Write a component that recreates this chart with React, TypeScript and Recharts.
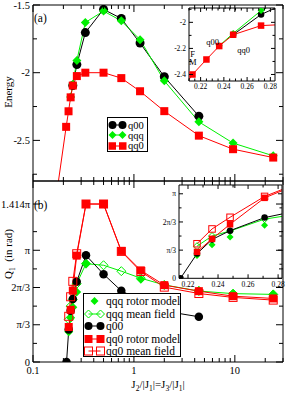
import React from 'react'
import { LineChart, Line, XAxis, YAxis } from 'recharts'

const FONT = '"Liberation Serif", "DejaVu Serif", serif'
const RED = '#ff0000'
const GREEN = '#00f000'
const BLACK = '#000000'

// ---- panel (a): energy ----
const xQQ0a = [0.15, 0.213, 0.225, 0.236, 0.248, 0.272, 0.33, 0.5, 0.75, 1.15, 2, 4.4, 9.6, 24]
const eQQ0 = [-3.2, -2.4, -2.285, -2.182, -2.095, -2.025, -2.0, -2.0, -2.04, -2.137, -2.284, -2.465, -2.565, -2.627]
const xQ00a = [0.248, 0.272, 0.33, 0.5, 0.75, 1.15, 2, 4.4]
const eQ00 = [-2.095, -1.94, -1.704, -1.532, -1.6, -1.781, -2.03, -2.321]
const xQQQa = [0.236, 0.248, 0.272, 0.33, 0.5, 0.75, 1.15, 2, 4.4, 9.6, 24]
const eQQQ = [-2.18, -2.085, -1.91, -1.629, -1.545, -1.617, -1.756, -2.06, -2.363, -2.52, -2.614]

// ---- panel (b): Q1 in units of pi ----
const xQ00b = [0.215, 0.226, 0.236, 0.248, 0.271, 0.335, 0.5, 0.75, 1.17, 2, 4.4]
const qQ00 = [0, 0.292, 0.459, 0.564, 0.718, 0.955, 0.786, 0.637, 0.55, 0.456, 0.405]
const xQQ0b = [0.226, 0.236, 0.248, 0.271, 0.335, 0.5, 0.75, 1.17, 2, 4.4, 9.6, 24]
const qQQ0rotor = [0.313, 0.467, 0.639, 0.952, 1.414, 1.414, 0.994, 0.82, 0.688, 0.634, 0.589, 0.569]
const qQQ0mean = [0.409, 0.584, 0.722, 0.969, 1.414, 1.414, 0.99, 0.81, 0.67, 0.613, 0.578, 0.554]
const xQQQrotor = [0.226, 0.236, 0.248, 0.271, 0.335, 1.17, 2, 4.4, 9.6, 24]
const qQQQrotor = [0.271, 0.396, 0.489, 0.627, 0.88, 0.741, 0.688, 0.64, 0.61, 0.607]
const xQQQmean = [0.226, 0.236, 0.248, 0.271, 0.335, 0.5, 0.75, 1.17, 2, 4.4, 9.6, 24]
const qQQQmean = [0.38, 0.5, 0.56, 0.7, 0.88, 0.866, 0.813, 0.75, 0.69, 0.635, 0.612, 0.605]

// ---- ticks ----
const xTicksMain = [0.1, 0.2, 0.3, 0.4, 0.5, 0.6, 0.7, 0.8, 0.9, 1, 2, 3, 4, 5, 6, 7, 8, 9, 10, 20, 30]
const xMajorMain = [0.1, 1, 10]
const eTicks = [-2.75, -2.5, -2.25, -2, -1.75, -1.5]
const eMajor = [-2.5, -2, -1.5]
const qTicks = [0, 1 / 6, 1 / 3, 0.5, 2 / 3, 5 / 6, 1, 7 / 6, 1.414]
const qMajor = [0, 1 / 3, 2 / 3, 1, 1.414]
const insetXTicksA = [0.21, 0.215, 0.22, 0.225, 0.23, 0.235, 0.24, 0.245, 0.25, 0.255, 0.26, 0.265, 0.27, 0.275, 0.28]
const insetXMajor = [0.22, 0.24, 0.26, 0.28]
const insetETicks = [-2.4, -2.3, -2.2, -2.1, -2.0, -1.9]
const insetEMajor = [-2.4, -2.2, -2.0]
const insetXTicksB = [0.22, 0.23, 0.24, 0.25, 0.26, 0.27, 0.28]
const insetQTicks = [0, 1 / 6, 1 / 3, 0.5, 2 / 3, 5 / 6, 1]
const insetQMajor = [0, 1 / 3, 2 / 3, 1]

const pts = (xs: number[], ys: number[]) => xs.map((x, i) => ({ x, y: ys[i] }))
const near = (a: number[], v: number) => a.some((m) => Math.abs(m - v) < 1e-9)

const piLabel = (v: number) => {
  if (Math.abs(v) < 1e-9) return '0'
  if (Math.abs(v - 1 / 3) < 1e-6) return 'π/3'
  if (Math.abs(v - 2 / 3) < 1e-6) return '2π/3'
  if (Math.abs(v - 1) < 1e-6) return 'π'
  return `${v}π`
}
const logLabel = (v: number) => String(v)
const numLabel = (v: number) => String(Math.round(v * 100) / 100)

type Side = 'left' | 'right' | 'top' | 'bottom'
const makeTick = (side: Side, major: number[], len: number, minorLen: number, fs: number, label?: (v: number) => string) =>
  (p: any) => {
    const v = p.payload.value
    const isMajor = near(major, v)
    const l = isMajor ? len : minorLen
    const { x, y } = p
    let line = null
    let text = null
    if (side === 'left') {
      line = <line x1={x} y1={y} x2={x + l} y2={y} stroke={BLACK} />
      if (label && isMajor) text = <text x={x - 3} y={y} dy="0.35em" textAnchor="end" fontSize={fs} fontFamily={FONT}>{label(v)}</text>
    } else if (side === 'right') {
      line = <line x1={x} y1={y} x2={x - l} y2={y} stroke={BLACK} />
    } else if (side === 'top') {
      line = <line x1={x} y1={y} x2={x} y2={y + l} stroke={BLACK} />
    } else {
      line = <line x1={x} y1={y} x2={x} y2={y - l} stroke={BLACK} />
      if (label && isMajor) text = <text x={x} y={y + fs * 1.1} textAnchor="middle" fontSize={fs} fontFamily={FONT}>{label(v)}</text>
    }
    return <g>{line}{text}</g>
  }

type Frame = {
  scale: 'log' | 'linear'
  xDomain: [number, number]
  xTicks: number[]
  xMajor: number[]
  xLabel?: (v: number) => string
  yDomain: [number, number]
  yTicks: number[]
  yMajor: number[]
  yLabel?: (v: number) => string
  top: number
  bottom: number
  left: number
  right: number
  fs: number
  len: number
  minorLen: number
}

function frameAxes(f: Frame) {
  const common = { type: 'number' as const, dataKey: 'x', scale: f.scale, domain: f.xDomain, allowDataOverflow: true, ticks: f.xTicks, interval: 0, tickSize: 0, tickMargin: 0, tickLine: false, axisLine: { stroke: BLACK } }
  const ycommon = { type: 'number' as const, domain: f.yDomain, allowDataOverflow: true, ticks: f.yTicks, interval: 0, tickSize: 0, tickMargin: 0, tickLine: false, axisLine: { stroke: BLACK } }
  return [
    <XAxis key="xb" xAxisId="b" orientation="bottom" height={f.bottom} {...common} tick={makeTick('bottom', f.xMajor, f.len, f.minorLen, f.fs, f.xLabel)} />,
    <XAxis key="xt" xAxisId="t" orientation="top" height={f.top} {...common} tick={makeTick('top', f.xMajor, f.len, f.minorLen, f.fs)} />,
    <YAxis key="yl" yAxisId="l" orientation="left" width={f.left} {...ycommon} tick={makeTick('left', f.yMajor, f.len, f.minorLen, f.fs, f.yLabel)} />,
    <YAxis key="yr" yAxisId="r" orientation="right" width={f.right} {...ycommon} tick={makeTick('right', f.yMajor, f.len, f.minorLen, f.fs)} />,
  ]
}

type Kind = 'circle' | 'square' | 'diamond'
const marker = (kind: Kind, color: string, size: number, open = false) => (p: any) => {
  const { cx, cy, index } = p
  if (cx == null || cy == null) return <g key={index} />
  const h = size / 2
  const fill = open ? 'none' : color
  if (kind === 'circle') return <circle key={index} cx={cx} cy={cy} r={h} fill={fill} stroke={color} strokeWidth={open ? 1 : 0} />
  if (kind === 'square') return <rect key={index} x={cx - h} y={cy - h} width={size} height={size} fill={fill} stroke={color} strokeWidth={open ? 1 : 0} />
  return <polygon key={index} points={`${cx},${cy - h} ${cx + h},${cy} ${cx},${cy + h} ${cx - h},${cy}`} fill={fill} stroke={color} strokeWidth={open ? 1 : 0} />
}

const series = (data: { x: number; y: number }[], color: string, dot: any, noLine = false) => (
  <Line
    xAxisId="b"
    yAxisId="l"
    type="linear"
    data={data}
    dataKey="y"
    stroke={noLine ? 'none' : color}
    strokeWidth={1}
    dot={dot}
    activeDot={false}
    isAnimationActive={false}
  />
)

const abs = (left: number, top: number): React.CSSProperties => ({ position: 'absolute', left, top })

const LegendSym = ({ kind, color, open, line, single, w = 22, size = 8 }: { kind: Kind; color: string; open?: boolean; line?: boolean; single?: boolean; w?: number; size?: number }) => {
  const m = marker(kind, color, size, open)
  const a = size / 2 + 0.5
  const b = w - size / 2 - 1.5
  return (
    <svg width={w} height={10} style={{ flexShrink: 0 }}>
      {line && <line x1={a} y1={5} x2={b} y2={5} stroke={color} />}
      {single ? m({ cx: (a + b) / 2, cy: 5, index: 0 }) : [m({ cx: a, cy: 5, index: 0 }), m({ cx: b, cy: 5, index: 1 })]}
    </svg>
  )
}

const Row = ({ h, children }: { h: number; children: React.ReactNode }) => (
  <div style={{ display: 'flex', alignItems: 'center', height: h, whiteSpace: 'nowrap' }}>{children}</div>
)

const Sub = ({ children }: { children: React.ReactNode }) => (
  <span style={{ fontSize: 7.5, position: 'relative', top: 3 }}>{children}</span>
)

export default function App() {
  const frameA: Frame = {
    scale: 'log', xDomain: [0.1, 30], xTicks: xTicksMain, xMajor: xMajorMain,
    yDomain: [-2.8, -1.5], yTicks: eTicks, yMajor: eMajor, yLabel: numLabel,
    top: 5, bottom: 1, left: 33, right: 6, fs: 10.5, len: 7, minorLen: 4,
  }
  const frameB: Frame = {
    scale: 'log', xDomain: [0.1, 30], xTicks: xTicksMain, xMajor: xMajorMain, xLabel: logLabel,
    yDomain: [0, 1.62], yTicks: qTicks, yMajor: qMajor, yLabel: piLabel,
    top: 5, bottom: 31, left: 33, right: 6, fs: 10.5, len: 7, minorLen: 4,
  }
  const frameIA: Frame = {
    scale: 'linear', xDomain: [0.21, 0.284], xTicks: insetXTicksA, xMajor: insetXMajor, xLabel: numLabel,
    yDomain: [-2.45, -1.89], yTicks: insetETicks, yMajor: insetEMajor, yLabel: numLabel,
    top: 5, bottom: 12, left: 30, right: 4, fs: 7.5, len: 4, minorLen: 2.5,
  }
  const frameIB: Frame = {
    scale: 'linear', xDomain: [0.214, 0.2826], xTicks: insetXTicksB, xMajor: insetXMajor, xLabel: numLabel,
    yDomain: [0, 1.104], yTicks: insetQTicks, yMajor: insetQMajor, yLabel: piLabel,
    top: 5, bottom: 12, left: 30, right: 5, fs: 7.5, len: 4, minorLen: 2.5,
  }

  return (
    <div style={{ position: 'absolute', left: 0, top: 0, width: 289, height: 393, background: '#fff', fontFamily: FONT, color: BLACK }}>
      {/* panel (a) */}
      <div style={abs(0, 0)}>
        <LineChart width={289} height={182} margin={{ top: 0, right: 0, bottom: 0, left: 0 }}>
          {frameAxes(frameA)}
          {series(pts(xQ00a, eQ00), BLACK, marker('circle', BLACK, 9))}
          {series(pts(xQQQa, eQQQ), GREEN, marker('diamond', GREEN, 9))}
          {series(pts(xQQ0a, eQQ0), RED, marker('square', RED, 8))}
        </LineChart>
      </div>

      {/* panel (b) */}
      <div style={abs(0, 176)}>
        <LineChart width={289} height={217} margin={{ top: 0, right: 0, bottom: 0, left: 0 }}>
          {frameAxes(frameB)}
          {series(pts(xQQQrotor, qQQQrotor), GREEN, marker('diamond', GREEN, 9), true)}
          {series(pts(xQQQmean, qQQQmean), GREEN, marker('diamond', GREEN, 9, true))}
          {series(pts(xQ00b, qQ00), BLACK, marker('circle', BLACK, 8.5))}
          {series(pts(xQQ0b, qQQ0mean), RED, marker('square', RED, 8, true))}
          {series(pts(xQQ0b, qQQ0rotor), RED, marker('square', RED, 8))}
        </LineChart>
      </div>

      {/* inset (a) */}
      <div style={abs(159, 3)}>
        <LineChart width={120} height={90} margin={{ top: 0, right: 0, bottom: 0, left: 0 }}>
          {frameAxes(frameIA)}
          {series(pts(xQ00a, eQ00), BLACK, marker('circle', BLACK, 6.5))}
          {series(pts(xQQQa, eQQQ), GREEN, marker('diamond', GREEN, 7))}
          {series(pts(xQQ0a, eQQ0), RED, marker('square', RED, 6.5))}
        </LineChart>
      </div>

      {/* inset (b) */}
      <div style={abs(149, 180)}>
        <LineChart width={138} height={110.3} margin={{ top: 0, right: 0, bottom: 0, left: 0 }}>
          {frameAxes(frameIB)}
          {series(pts(xQQQrotor, qQQQrotor), GREEN, marker('diamond', GREEN, 7), true)}
          {series(pts(xQQQmean, qQQQmean), GREEN, marker('diamond', GREEN, 7, true))}
          {series(pts(xQ00b, qQ00), BLACK, marker('circle', BLACK, 6.5))}
          {series(pts(xQQ0b, qQQ0mean), RED, marker('square', RED, 6.5, true))}
          {series(pts(xQQ0b, qQQ0rotor), RED, marker('square', RED, 6.5))}
        </LineChart>
      </div>

      {/* labels */}
      <div style={{ ...abs(34, 11), fontSize: 11.5, lineHeight: '14px' }}>(a)</div>
      <div style={{ ...abs(34, 198), fontSize: 11.5, lineHeight: '14px' }}>(b)</div>
      <div style={{ ...abs(8, 92), fontSize: 11, lineHeight: '12px', transform: 'translate(-50%,-50%) rotate(-90deg)', whiteSpace: 'nowrap' }}>Energy</div>
      <div style={{ ...abs(9, 254), fontSize: 11, lineHeight: '12px', transform: 'translate(-50%,-50%) rotate(-90deg)', whiteSpace: 'nowrap' }}>
        Q<Sub>1</Sub>&nbsp;&nbsp;(in rad)
      </div>
      <div style={{ ...abs(158, 385), fontSize: 11, lineHeight: '12px', transform: 'translate(-50%,-50%)', whiteSpace: 'nowrap' }}>
        J<Sub>2</Sub>/|J<Sub>1</Sub>|=J<Sub>3</Sub>/|J<Sub>1</Sub>|
      </div>
      <div style={{ ...abs(212.5, 41.7), fontSize: 8.5, transform: 'translate(-50%,-50%)' }}>q00</div>
      <div style={{ ...abs(243.5, 50), fontSize: 8.5, transform: 'translate(-50%,-50%)' }}>qq0</div>
      <div style={{ ...abs(192.7, 57.5), fontSize: 8.5, lineHeight: '8.5px', transform: 'translate(-50%,-50%)', textAlign: 'center' }}>F<br />M</div>

      {/* legend (a) */}
      <div style={{ ...abs(107, 117), width: 41, height: 35, boxSizing: 'border-box', border: '1px solid #000', background: '#fff', fontSize: 10.5, padding: '2px 0 0 0', overflow: 'hidden' }}>
        <Row h={10.3}><LegendSym kind="circle" color={BLACK} line w={20} size={8} /><span>q00</span></Row>
        <Row h={10.3}><LegendSym kind="diamond" color={GREEN} line w={20} size={8} /><span>qqq</span></Row>
        <Row h={10.3}><LegendSym kind="square" color={RED} line w={20} size={7.5} /><span>qq0</span></Row>
      </div>

      {/* legend (b) */}
      <div style={{ ...abs(83, 293), width: 98, height: 64, boxSizing: 'border-box', border: '1px solid #000', background: '#fff', fontSize: 11.5, padding: '1px 0 0 0', overflow: 'hidden' }}>
        <Row h={12.5}><LegendSym kind="diamond" color={GREEN} single /><span>qqq rotor model</span></Row>
        <Row h={12.5}><LegendSym kind="diamond" color={GREEN} open line /><span>qqq mean field</span></Row>
        <Row h={12.5}><LegendSym kind="circle" color={BLACK} line /><span>q00</span></Row>
        <Row h={12.5}><LegendSym kind="square" color={RED} line /><span>qq0 rotor model</span></Row>
        <Row h={12.5}><LegendSym kind="square" color={RED} open line /><span>qq0 mean field</span></Row>
      </div>
    </div>
  )
}
